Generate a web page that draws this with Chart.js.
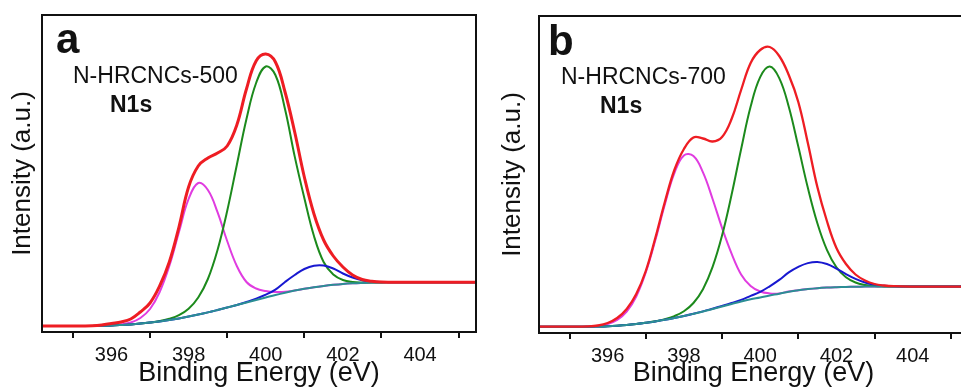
<!DOCTYPE html>
<html>
<head>
<meta charset="utf-8">
<script src="https://cdn.jsdelivr.net/npm/chart.js@4.4.0/dist/chart.umd.min.js"></script>
<style>
  html, body { margin: 0; padding: 0; background: #fff; overflow: hidden; width: 961px; height: 390px; }
  canvas { position: absolute; top: 0; }
  #chartA { left: 0; }
  #chartB { left: 497px; }
</style>
</head>
<body>
<canvas id="chartA" width="480" height="390"></canvas>
<canvas id="chartB" width="480" height="390"></canvas>
<script>
// binding energy grid (eV), shared by both panels
const energy = [394.2, 394.5, 395, 395.5, 395.75, 396, 396.25, 396.5, 396.75, 397, 397.25, 397.5, 397.75, 398, 398.25, 398.5, 398.75, 399, 399.25, 399.5, 399.75, 400, 400.25, 400.5, 400.75, 401, 401.25, 401.5, 401.75, 402, 402.25, 402.5, 402.75, 403, 403.25, 403.5, 404, 404.5, 405, 405.5];
const xTickLabels = [396, 398, 400, 402, 404];

// panel a: N-HRCNCs-500 (intensity, arbitrary units)
const sumA   = [6, 6, 6, 6.3, 7, 8.5, 10, 13, 20, 29, 46, 70, 105, 145, 166, 174, 179, 186, 207, 243, 271, 278, 270, 240, 200, 155, 118, 92, 76, 65, 57, 52.5, 50.8, 50, 49.8, 49.7, 49.7, 49.7, 49.7, 49.7];
const pinkA  = [6, 6, 6, 6, 6.2, 6.7, 7.7, 9.5, 14, 23, 40, 66, 100, 133, 149, 142, 119.8, 91, 66, 50, 43.5, 41, 40, 40.2, 41.6, 43.2, 44.8, 46.1, 47.2, 48.1, 48.7, 49.1, 49.4, 49.6, 49.7, 49.7, 49.7, 49.7, 49.7, 49.7];
const greenA = [6, 6, 6, 6, 6.2, 6.5, 7, 7.6, 8.4, 9.5, 11, 13.2, 16.8, 23.2, 34.5, 53, 82, 121, 167, 213, 249, 265.5, 257, 222.8, 175.6, 134, 96, 70, 57.5, 52, 50, 49.5, 49.5, 49.6, 49.7, 49.7, 49.7, 49.7, 49.7, 49.7];
const blueA  = [6, 6, 6, 6, 6.2, 6.5, 7, 7.6, 8.4, 9.4, 10.6, 12, 13.6, 15.4, 17.4, 19.6, 22, 24.5, 27, 30, 33.3, 37.3, 42.4, 50, 57, 63, 66.3, 66.5, 63.5, 58.5, 54.5, 51.8, 50.5, 50, 49.8, 49.7, 49.7, 49.7, 49.7, 49.7];
const baseA  = [6, 6, 6, 6, 6.2, 6.5, 7, 7.6, 8.4, 9.4, 10.6, 12, 13.6, 15.4, 17.4, 19.6, 22, 24.5, 27, 29.5, 32, 34.5, 37, 39.3, 41.4, 43.2, 44.8, 46.1, 47.2, 48.1, 48.7, 49.1, 49.4, 49.6, 49.7, 49.7, 49.7, 49.7, 49.7, 49.7];

// panel b: N-HRCNCs-700
const sumB   = [6.3, 6.3, 6.3, 6.6, 7.5, 10, 15, 24, 39, 62, 95, 131, 163, 184, 195.5, 194.5, 191.5, 196, 214, 243, 270, 283, 286, 277, 258, 231, 190, 146, 112, 85, 69, 58.5, 52.5, 49, 47.5, 46.8, 46.4, 46.4, 46.4, 46.4];
const pinkB  = [6.3, 6.3, 6.3, 6.5, 7.2, 8.9, 13, 21.3, 36.5, 60.5, 92.7, 128.6, 159.9, 177.6, 176.9, 160.6, 134.3, 105.1, 79.4, 58.6, 47, 41.5, 39.6, 39.6, 41.5, 42.8, 43.9, 44.8, 45.4, 45.8, 46.1, 46.3, 46.4, 46.4, 46.4, 46.4, 46.4, 46.4, 46.4, 46.4];
const greenB = [6.3, 6.3, 6.3, 6.3, 6.5, 6.8, 7.3, 8, 9, 10.2, 11.7, 13.9, 16.9, 21.7, 30, 43.8, 65.8, 97.4, 138.2, 183.8, 226.4, 255.9, 266.5, 254.9, 226.3, 186.4, 145.2, 109.8, 83.2, 65.8, 55.7, 50.5, 48.1, 47, 46.6, 46.4, 46.4, 46.4, 46.4, 46.4];
const blueB  = [6.3, 6.3, 6.3, 6.3, 6.5, 6.8, 7.3, 8, 9, 10.2, 11.6, 13.2, 15, 17, 19.2, 21.6, 24.3, 27.1, 30, 33.1, 37.1, 41.1, 46.7, 53.1, 60.6, 66.1, 69.9, 71.1, 69, 64.4, 58.9, 54.1, 50.5, 48.3, 47.2, 46.7, 46.4, 46.4, 46.4, 46.4];
const baseB  = [6.3, 6.3, 6.3, 6.3, 6.5, 6.8, 7.3, 8, 9, 10.2, 11.6, 13.2, 15, 17, 19.2, 21.5, 24, 26.5, 29, 31.5, 33.7, 35.5, 37.5, 39.3, 41.3, 42.8, 43.9, 44.8, 45.4, 45.8, 46.1, 46.3, 46.4, 46.4, 46.4, 46.4, 46.4, 46.4, 46.4, 46.4];

Chart.defaults.font.family = '"Liberation Sans", Arial, sans-serif';
Chart.defaults.color = '#111';

const toPoints = (ys) => ys.map((y, i) => ({ x: energy[i], y: y }));

const line = (label, ys, color, width) => ({
    label: label,
    data: toPoints(ys),
    borderColor: color,
    borderWidth: width,
    pointRadius: 0,
    fill: false,
    tension: 0.4,
});

// box around the plot area plus the panel annotations
const framePlugin = {
    id: "frame",
    afterDraw(chart, args, opts) {
        const { ctx, chartArea: a } = chart;
        ctx.save();
        ctx.strokeStyle = "#111";
        ctx.lineWidth = 2;
        ctx.strokeRect(a.left, a.top, a.right - a.left, a.bottom - a.top);
        ctx.fillStyle = "#111";
        ctx.textBaseline = "alphabetic";
        ctx.font = 'bold 42px "Liberation Sans", Arial, sans-serif';
        ctx.fillText(opts.letter, a.left + opts.letterX, a.top + opts.letterY);
        ctx.font = '23px "Liberation Sans", Arial, sans-serif';
        ctx.fillText(opts.sample, a.left + opts.sampleX, a.top + 68);
        ctx.font = 'bold 23px "Liberation Sans", Arial, sans-serif';
        ctx.fillText("N1s", a.left + opts.n1sX, a.top + 97);
        ctx.restore();
    },
};

function makeChart(id, series, opts) {
    const ctx = document.getElementById(id).getContext("2d");
    // first dataset ends up on top
    return new Chart(ctx, {
        type: "line",
        data: {
            datasets: [
                line("envelope", series.sum, "#ee1d23", opts.redWidth),
                line("background", series.base, "#2b8e94", 2),
                line("blue", series.blue, "#1818d0", 2),
                line("green", series.green, "#1c8a1c", 2),
                line("pink", series.pink, "#e03ce0", 2),
            ],
        },
        options: {
            responsive: false,
            animation: false,
            devicePixelRatio: 1,
            layout: { padding: { top: opts.top, right: opts.right, left: 0, bottom: 0 } },
            plugins: {
                legend: { display: false },
                tooltip: { enabled: false },
                frame: opts.frame,
            },
            scales: {
                x: {
                    type: "linear",
                    min: 394.2,
                    max: 405.45,
                    afterFit: (s) => { s.height = opts.xHeight; },
                    border: { display: false },
                    grid: {
                        display: true,
                        drawOnChartArea: false,
                        drawTicks: true,
                        tickLength: 6,
                        lineWidth: 2,
                        color: (c) => (c.tick && Math.abs(c.tick.value % 2) === 1 ? "#111" : "rgba(0,0,0,0)"),
                    },
                    ticks: {
                        stepSize: 1,
                        includeBounds: false,
                        autoSkip: false,
                        maxRotation: 0,
                        padding: 5,
                        font: { size: 20 },
                        callback: (v) => (xTickLabels.includes(v) ? String(v) : ""),
                    },
                    title: {
                        display: true,
                        text: "Binding Energy (eV)",
                        font: { size: 27 },
                        padding: { top: 0, bottom: 0 },
                    },
                },
                y: {
                    min: 0,
                    max: 317,
                    afterFit: (s) => { s.width = 42; },
                    border: { display: false },
                    grid: { display: false },
                    ticks: { display: false },
                    title: {
                        display: true,
                        text: "Intensity (a.u.)",
                        font: { size: 26 },
                        padding: { top: opts.yTitlePad, bottom: 0 },
                    },
                },
            },
        },
        plugins: [framePlugin],
    });
}

makeChart("chartA",
    { sum: sumA, pink: pinkA, green: greenA, blue: blueA, base: baseA },
    {
        top: 15, right: 4, xHeight: 58, yTitlePad: 7, redWidth: 3,
        frame: { letter: "a", letterX: 14, letterY: 38, sample: "N-HRCNCs-500", sampleX: 31, n1sX: 68 },
    });

makeChart("chartB",
    { sum: sumB, pink: pinkB, green: greenB, blue: blueB, base: baseB },
    {
        top: 16, right: 9, xHeight: 57, yTitlePad: 0, redWidth: 2.3,
        frame: { letter: "b", letterX: 9, letterY: 39, sample: "N-HRCNCs-700", sampleX: 22, n1sX: 61 },
    });
</script>
</body>
</html>
